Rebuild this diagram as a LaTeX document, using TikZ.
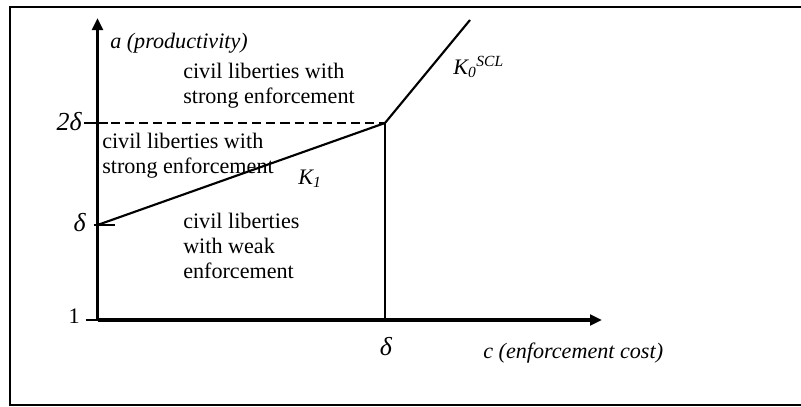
\documentclass[tikz,border=0pt]{standalone}
\usepackage{fontspec}
\setmainfont{Liberation Serif}
\usetikzlibrary{arrows.meta, positioning}

\begin{document}
\begin{tikzpicture}[
    x=0.75pt, y=-0.75pt,
    font=\fontsize{16.6}{18.6}\selectfont,
    axis/.style={line width=2.4pt, -{Triangle[length=9pt, width=8pt]}},
    curve/.style={line width=1.6pt},
    tick/.style={line width=1.2pt},
    lbl/.style={inner sep=0pt, align=left},
    mlab/.style={inner sep=0pt, font=\fontsize{19.5}{21}\selectfont\itshape}
]
\useasboundingbox (0,0) rectangle (801,407);
% frame (right side cut off)
\draw[line width=1.6pt] (801,7) -- (10,7) -- (10,405) -- (801,405);
% ===== points =====
\coordinate (o)    at (97.5,320);
\coordinate (ytop) at (97.5,18);
\coordinate (xend) at (602,320);
\coordinate (d1)   at (97.5,225);
\coordinate (d2)   at (97.5,123);
\coordinate (kink) at (385,123);
\coordinate (kend) at (470,20);
\coordinate (cd)   at (385,320);
% ===== axes =====
\draw[axis] (o) -- (ytop);
\draw[axis] (o) -- (xend);
% ticks
\draw[tick] ([xshift=-9]o) -- ([xshift=13]o);
\draw[tick] ([xshift=-3]d1) -- ([xshift=13]d1);
\draw[tick] ([xshift=-10]d2) -- ([xshift=8]d2);
\draw[tick] (cd) -- ([yshift=12]cd);
% ===== curves =====
\draw[line width=2pt, dash pattern=on 6.8pt off 3.8pt] ([xshift=10]d2) -- (kink);
\draw[curve] (d1) -- (kink) -- (kend);
\draw[curve] (kink) -- (cd);
% ===== labels =====
\node[lbl, anchor=east] (one) at (80,316) {1};
\node[mlab, anchor=east] (ldel) at (86,223) {δ};
\node[mlab, anchor=east] (ldel2) at (82,122) {2δ};
\node[mlab, anchor=north] (cdel) at (386,337) {δ};
\node[lbl, anchor=west] (alab) at (110,43) {\itshape a (productivity)};
\node[lbl, anchor=west] (clab) at (483,353) {\itshape c (enforcement cost)};
\node[lbl, anchor=west] (k0) at (453,67) {\itshape K\textsubscript{0}\textsuperscript{SCL}};
\node[lbl, anchor=west] (k1) at (298,179) {\itshape K\textsubscript{1}};
\node[lbl, anchor=north west] (strong1) at (183,63) {civil liberties with\\strong enforcement};
\node[lbl, anchor=north west] (strong2) at (102,133) {civil liberties with\\strong enforcement};
\node[lbl, anchor=north west] (weak) at (183,213) {civil liberties\\with weak\\enforcement};
\end{tikzpicture}
\end{document}
